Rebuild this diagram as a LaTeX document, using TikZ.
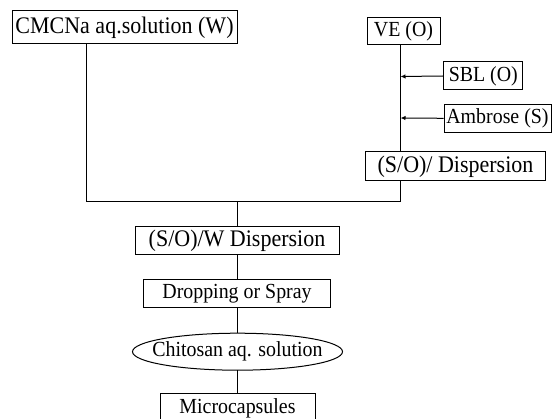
\documentclass[tikz,border=0pt]{standalone}
\usepackage{fontspec}
\setmainfont{Liberation Serif}
\usetikzlibrary{arrows.meta,shapes.geometric}
\newcommand{\tallt}[1]{\scalebox{1}[1.08]{#1}}
\begin{document}
\begin{tikzpicture}[x=1pt,y=-1pt,
  every node/.style={inner sep=0pt, line width=1pt},
  bigtext/.style={font=\fontsize{22}{26}\selectfont},
  smalltext/.style={font=\fontsize{19.9}{24}\selectfont},
  boxnode/.style={draw, rectangle},
  ovalline/.style={draw, line width=1pt},
  conn/.style={line width=1pt},
  feed/.style={line width=1pt, -{Latex[length=5pt,width=4.5pt]}}]
\useasboundingbox (0,0) rectangle (552,419);
\node[boxnode, bigtext, minimum width=225pt, minimum height=33pt] (cmc) at (124.5,27.5) {\tallt{CMCNa aq.solution (W)}};
\node[boxnode, smalltext, minimum width=73pt, minimum height=27pt] (ve) at (403.5,31) {\tallt{VE (O)}};
\node[boxnode, smalltext, minimum width=79pt, minimum height=28pt] (sbl) at (483.3,76) {\tallt{SBL (O)}};
\node[boxnode, smalltext, minimum width=107pt, minimum height=28pt] (amb) at (497.5,118.3) {\tallt{Ambrose (S)}};
\node[boxnode, bigtext, minimum width=180pt, minimum height=29pt] (so) at (455.5,166.5) {\tallt{(S/O)/ Dispersion}};
\node[boxnode, bigtext, minimum width=204pt, minimum height=28pt] (sow) at (237,240.5) {\tallt{(S/O)/W Dispersion}};
\node[boxnode, smalltext, minimum width=187pt, minimum height=28pt] (drop) at (237,294) {\tallt{Dropping or Spray}};
\node[smalltext] (chi) at (237.5,351.7) {\tallt{Chitosan aq. solution}};
\draw[ovalline] (chi.center) ellipse [x radius=105pt, y radius=18.5pt];
\node[boxnode, smalltext, minimum width=155pt, minimum height=28pt] (micro) at (237.5,408) {\tallt{Microcapsules}};
% junction coordinates
\coordinate (cmcout) at (86,44);
\coordinate (jl) at (86,202);
\coordinate (jr) at (400.5,202);
\coordinate (jc) at (237,202);
\coordinate (vetop) at (400.5,44.5);
\coordinate (vebot) at (400.5,152);
\coordinate (p1) at (400.5,76.5);
\coordinate (p2) at (400.5,118);
\coordinate (chitop) at (237,333.2);
\coordinate (chibot) at (237,370.2);
\draw[conn] (cmcout) -- (jl) -- (jr) -- (jr |- so.south);
\draw[conn] (vetop) -- (vebot);
\draw[feed] (sbl.west) -- (p1);
\draw[feed] (amb.west) -- (p2);
\draw[conn] (jc) -- (sow.north);
\draw[conn] (sow.south) -- (drop.north);
\draw[conn] (drop.south -| chitop) -- (chitop);
\draw[conn] (chibot) -- (micro.north -| chibot);
\end{tikzpicture}
\end{document}
